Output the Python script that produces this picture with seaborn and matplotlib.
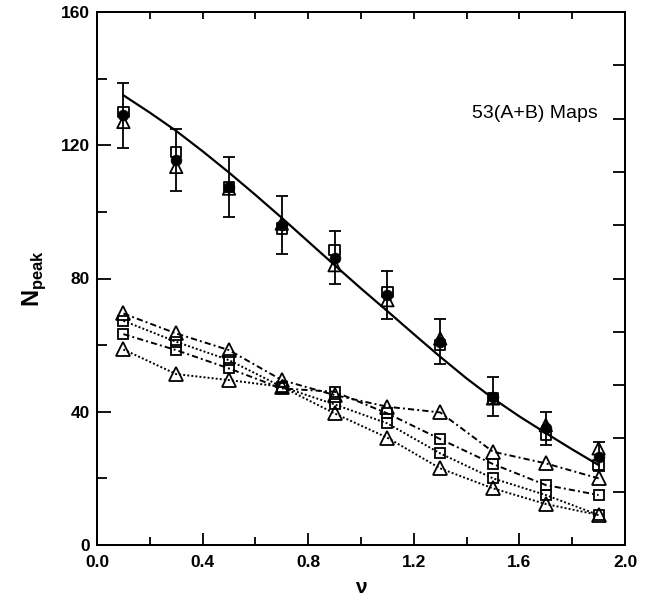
import numpy as np
import pandas as pd
import matplotlib
matplotlib.use("Agg")
import matplotlib.pyplot as plt
import seaborn as sns

# ---------------- data ----------------
nu = [0.1, 0.3, 0.5, 0.7, 0.9, 1.1, 1.3, 1.5, 1.7, 1.9]

# upper group (53(A+B) maps)
up_circle = [129.0, 115.5, 107.5, 96.0, 86.3, 75.0, 61.0, 44.5, 35.0, 26.5]
up_circle_err = [9.8, 9.3, 9.0, 8.7, 8.0, 7.3, 6.7, 5.8, 5.0, 4.3]
up_square = [130.0, 118.0, 107.5, 95.0, 88.5, 76.0, 60.0, 44.0, 33.0, 24.0]
up_triangle = [127.0, 113.5, 107.0, 96.5, 84.0, 73.5, 62.0, 44.0, 36.0, 29.0]

# fitted curve
fit_nu = [0.1, 0.2, 0.3, 0.4, 0.5, 0.6, 0.7, 0.8, 0.9, 1.0,
          1.1, 1.2, 1.3, 1.4, 1.5, 1.6, 1.7, 1.8, 1.9]
fit_val = [135.0, 129.8, 124.3, 118.2, 111.8, 105.1, 98.2, 91.1, 84.0, 77.0,
           70.2, 63.3, 56.5, 50.0, 44.0, 38.6, 33.6, 28.7, 24.0]

# lower group
low_tri_dd = [69.5, 63.5, 58.5, 49.5, 45.0, 41.5, 39.8, 28.0, 24.5, 20.0]
low_sq_dd = [63.3, 58.5, 53.0, 47.0, 46.0, 39.5, 31.8, 24.3, 18.0, 15.0]
low_sq_dot = [67.3, 61.0, 55.5, 47.5, 42.2, 36.5, 27.5, 20.0, 15.0, 9.0]
low_tri_dot = [58.7, 51.3, 49.5, 47.5, 39.5, 32.2, 23.0, 17.0, 12.3, 9.0]

x_ticks = [0.0, 0.4, 0.8, 1.2, 1.6, 2.0]
x_ticklabels = ["0.0", "0.4", "0.8", "1.2", "1.6", "2.0"]
y_ticks = [0, 40, 80, 120, 160]
y_ticklabels = ["0", "40", "80", "120", "160"]
annotation = "53(A+B) Maps"

# ---------------- style ----------------
sns.set_theme(style="ticks")
K = "black"
plt.rcParams["font.family"] = ["Liberation Sans", "DejaVu Sans"]
plt.rcParams["mathtext.fontset"] = "custom"
plt.rcParams["mathtext.rm"] = "Liberation Sans"
plt.rcParams["mathtext.bf"] = "Liberation Sans:bold"
plt.rcParams["axes.linewidth"] = 1.4
plt.rcParams["text.color"] = K
plt.rcParams["axes.labelcolor"] = K
plt.rcParams["xtick.color"] = K
plt.rcParams["ytick.color"] = K
plt.rcParams["axes.edgecolor"] = K

fig = plt.figure(figsize=(6.54, 6.0), dpi=100)
ax = fig.add_axes([97 / 654, 1 - 545 / 600, (625 - 97) / 654, (545 - 12) / 600])

dashdot = (0, (3.2, 1.6, 1.0, 1.6))
dotted = (0, (1.0, 1.1))

# lower group lines
line_specs = [
    (low_tri_dd, "^", 9.5, dashdot),
    (low_sq_dd, "s", 7.5, dashdot),
    (low_sq_dot, "s", 7.5, dotted),
    (low_tri_dot, "^", 9.5, dotted),
]
for vals, mk, ms, ls in line_specs:
    sns.lineplot(x=nu, y=vals, ax=ax, color=K, linestyle=ls, linewidth=1.4,
                 marker=mk, markersize=ms, markerfacecolor="none",
                 markeredgecolor=K, markeredgewidth=1.3)

# fitted solid curve
sns.lineplot(x=fit_nu, y=fit_val, ax=ax, color=K, linewidth=1.6)

# upper group markers
sns.scatterplot(x=nu, y=up_square, ax=ax, marker="s", s=55,
                facecolor="none", edgecolor=K, linewidth=1.3)
sns.scatterplot(x=nu, y=up_triangle, ax=ax, marker="^", s=80,
                facecolor="none", edgecolor=K, linewidth=1.3)
ax.errorbar(nu, up_circle, yerr=up_circle_err, fmt="none", ecolor=K,
            elinewidth=1.3, capsize=4, capthick=1.3)
sns.scatterplot(x=nu, y=up_circle, ax=ax, marker="o", s=60,
                color=K, edgecolor=K, linewidth=0.5, zorder=5)

ax.text(1.42, 129.6, annotation, fontsize=14, ha="left", va="center",
        color=K)

# axes
ax.set_xlim(0, 2.0)
ax.set_ylim(0, 160)
ax.set_xticks(x_ticks)
ax.set_xticklabels(x_ticklabels, fontsize=12.5, fontweight="bold", color=K)
ax.set_xticks(np.arange(0.2, 2.0, 0.4), minor=True)
ax.set_yticks(y_ticks)
ax.set_yticklabels(y_ticklabels, fontsize=12.5, fontweight="bold", color=K)
ax.set_yticks(np.arange(20, 160, 40), minor=True)
ax.tick_params(axis="x", which="major", direction="in", length=8.5, width=1.3, pad=7, colors=K)
ax.tick_params(axis="x", which="minor", direction="in", length=5.5, width=1.3, colors=K)
ax.tick_params(axis="y", which="major", direction="in", length=10, width=1.3, pad=5, colors=K)
ax.tick_params(axis="y", which="minor", direction="in", length=7, width=1.3, colors=K)

ax.set_xlabel("ν", fontsize=15, fontweight="bold", labelpad=6, color=K)
ax.set_ylabel(r"$\mathbf{N}_{\mathbf{peak}}$", fontsize=17, labelpad=9, color=K)

for sp in ax.spines.values():
    sp.set_color(K)
    sp.set_linewidth(1.4)

# right and top inward ticks
axr = ax.twinx()
axr.set_ylim(0, 160)
axr.set_yticks(np.arange(0, 161, 16))
axr.tick_params(axis="y", direction="in", length=9, width=1.3, labelright=False, colors=K)
axt = ax.twiny()
axt.set_xlim(0, 2.0)
axt.set_xticks(np.arange(0, 2.01, 0.2))
axt.tick_params(axis="x", direction="in", length=5, width=1.3, labeltop=False, colors=K)
for a in (axr, axt):
    for sp in a.spines.values():
        sp.set_linewidth(1.4)
        sp.set_color(K)

fig.savefig("out.png", dpi=100, facecolor="white")
